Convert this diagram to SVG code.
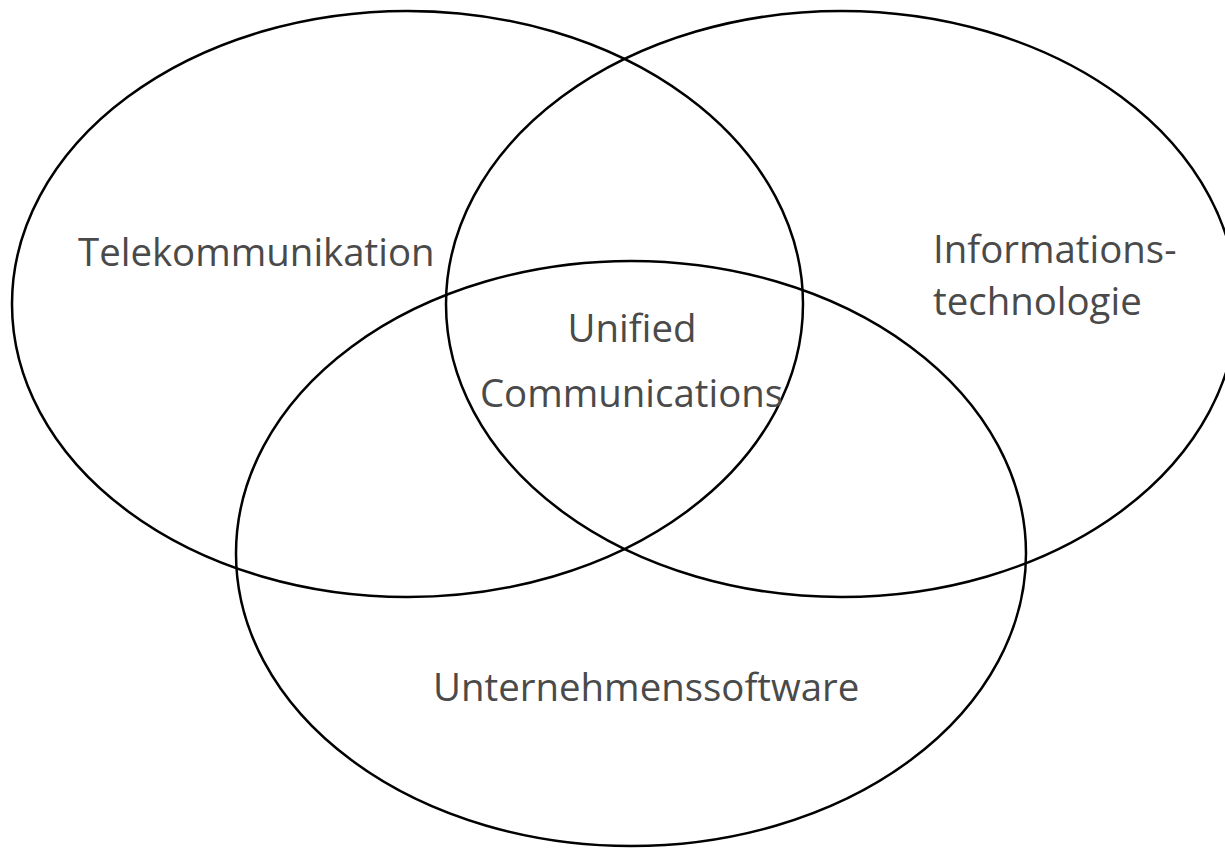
<svg xmlns="http://www.w3.org/2000/svg" width="1225" height="849" viewBox="0 0 1225 849">
<style>
.set{fill:none;stroke:#000;stroke-width:2.5}
.lbl{font-family:"Open Sans","Noto Sans",sans-serif;font-size:38.4px;fill:#4a4a4a}
</style>
<rect width="1225" height="849" fill="#fff"/>
<g id="telekommunikation">
<ellipse class="set" cx="407.5" cy="304" rx="395.5" ry="293"/>
<text class="lbl" x="78" y="266">Telekommunikation</text>
</g>
<g id="informationstechnologie">
<ellipse class="set" cx="841.5" cy="304" rx="395.5" ry="293"/>
<text class="lbl" x="933" y="263">Informations-</text>
<text class="lbl" x="933" y="315">technologie</text>
</g>
<g id="unternehmenssoftware">
<ellipse class="set" cx="631" cy="553.5" rx="395" ry="292.5"/>
<text class="lbl" x="433" y="701">Unternehmenssoftware</text>
</g>
<g id="unified-communications">
<text class="lbl" x="632" y="342" text-anchor="middle">Unified</text>
<text class="lbl" x="631.5" y="407" text-anchor="middle">Communications</text>
</g>
<g id="connectors"></g>
</svg>
